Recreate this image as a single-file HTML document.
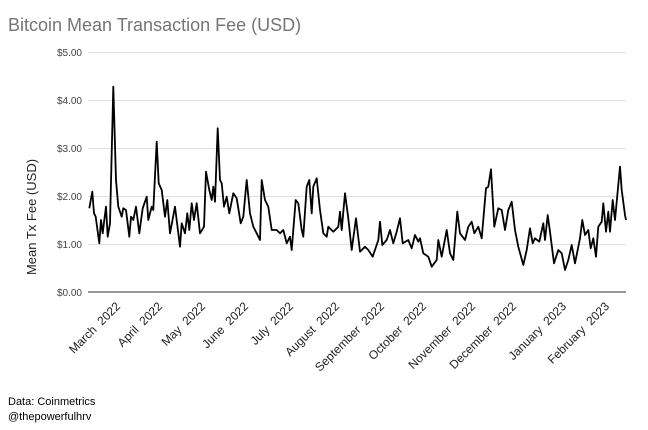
<!DOCTYPE html>
<html><head><meta charset="utf-8"><style>
body{margin:0;background:#fff;}
svg{display:block;font-family:"Liberation Sans",Arial,sans-serif;}
</style></head><body>
<svg id="s" width="648" height="430" xmlns="http://www.w3.org/2000/svg">
<rect width="648" height="430" fill="#fff"/>
<text x="8" y="31" font-size="18" fill="#757575">Bitcoin Mean Transaction Fee (USD)</text>
<g stroke="#e0e0e0" stroke-width="1">
<line x1="88" x2="626" y1="52.5" y2="52.5"/>
<line x1="88" x2="626" y1="100.5" y2="100.5"/>
<line x1="88" x2="626" y1="148.5" y2="148.5"/>
<line x1="88" x2="626" y1="196.5" y2="196.5"/>
<line x1="88" x2="626" y1="244.5" y2="244.5"/>
</g>
<line x1="88" x2="626" y1="292" y2="292" stroke="#333" stroke-width="1"/>
<g font-size="10" fill="#444" text-anchor="end">
<text x="82" y="56">$5.00</text>
<text x="82" y="104">$4.00</text>
<text x="82" y="152">$3.00</text>
<text x="82" y="200">$2.00</text>
<text x="82" y="248">$1.00</text>
<text x="82" y="296">$0.00</text>
</g>
<text transform="translate(36,217) rotate(-90)" font-size="13" fill="#222" text-anchor="middle">Mean Tx Fee (USD)</text>
<polyline id="p" fill="none" stroke="#000" stroke-width="1.8" stroke-linejoin="round" points=""/>
<g id="lab" font-size="12" fill="#222"></g>
<text x="8" y="405" font-size="11" fill="#000">Data: Coinmetrics</text>
<text x="8" y="420" font-size="11" fill="#000">@thepowerfulhrv</text>
</svg>
<script>
var z1=[28,385,37,335,42,400,47,410,58,490,63,420,68,460,73,420,78,380,83,470,90,430,100,20,108,300,115,380,125,410,130,385,138,390,148,470,153,410,160,420,168,380,178,460,188,385,200,350,205,420,215,380,220,390,230,185,236,310,245,330,255,410,262,360,270,460,285,380,300,500,305,430,315,460,322,400,328,450,335,370,342,420,350,370,360,460,372,440,378,275,388,330,395,360,400,320,405,365,413,145,420,300,425,310,432,380,440,350,448,400,460,340,470,355,482,430,490,410,500,300,510,400,520,440,530,460,540,480,545,300,555,360,565,380,575,450,590,450,600,460,610,450,620,490,630,470,635,510,647,360,655,370,665,450,670,470,680,320,688,300,695,400,700,320,710,295,720,390,730,460,740,470,745,440,760,455,775,440,780,395,785,450,795,340,805,415];
var z2=[0,210,5,300,18,205,30,305,45,290,55,300,68,320,85,270,90,215,97,285,110,270,120,240,130,280,140,245,150,205,158,280,175,270,185,295,195,255,205,275,210,265,220,310,235,320,245,350,260,330,265,270,275,320,290,240,300,310,310,330,322,185,330,250,345,270,355,230,365,215,373,250,385,230,395,265,408,115,415,110,423,58,433,230,445,175,455,180,465,240,475,180,485,155,495,240,505,290,520,345,530,300,540,235,548,280,555,265,568,275,580,220,585,270,593,195,600,245,612,340,625,300,635,310,645,360,655,330,665,285,675,340,690,265,697,210,705,255,715,240,722,295,730,265,738,320,745,230,755,215,760,160,768,245,775,185,780,245,788,150,795,210,810,50,815,120,825,195,828,210];
var pts=[];
for(var i=0;i<z1.length;i+=2)pts.push((80+z1[i]/3).toFixed(1)+","+(80+z1[i+1]/3).toFixed(1));
for(var i=2;i<z2.length;i+=2)pts.push((350+z2[i]/3).toFixed(1)+","+(150+z2[i+1]/3).toFixed(1));
document.getElementById('p').setAttribute('points',pts.join(' '));
var L=[["March  2022",119],["April  2022",161],["May  2022",204],["June  2022",247],["July  2022",292],["August  2022",338],["September  2022",383],["October  2022",425],["November  2022",474],["December  2022",515],["January  2023",565],["February  2023",608]];
var g=document.getElementById('lab'),h='';
L.forEach(function(l){h+='<text text-anchor="end" xml:space="preserve" transform="translate('+(l[1]+2)+',307) rotate(-45)">'+l[0]+'</text>';});
g.innerHTML=h;
</script>
</body></html>
